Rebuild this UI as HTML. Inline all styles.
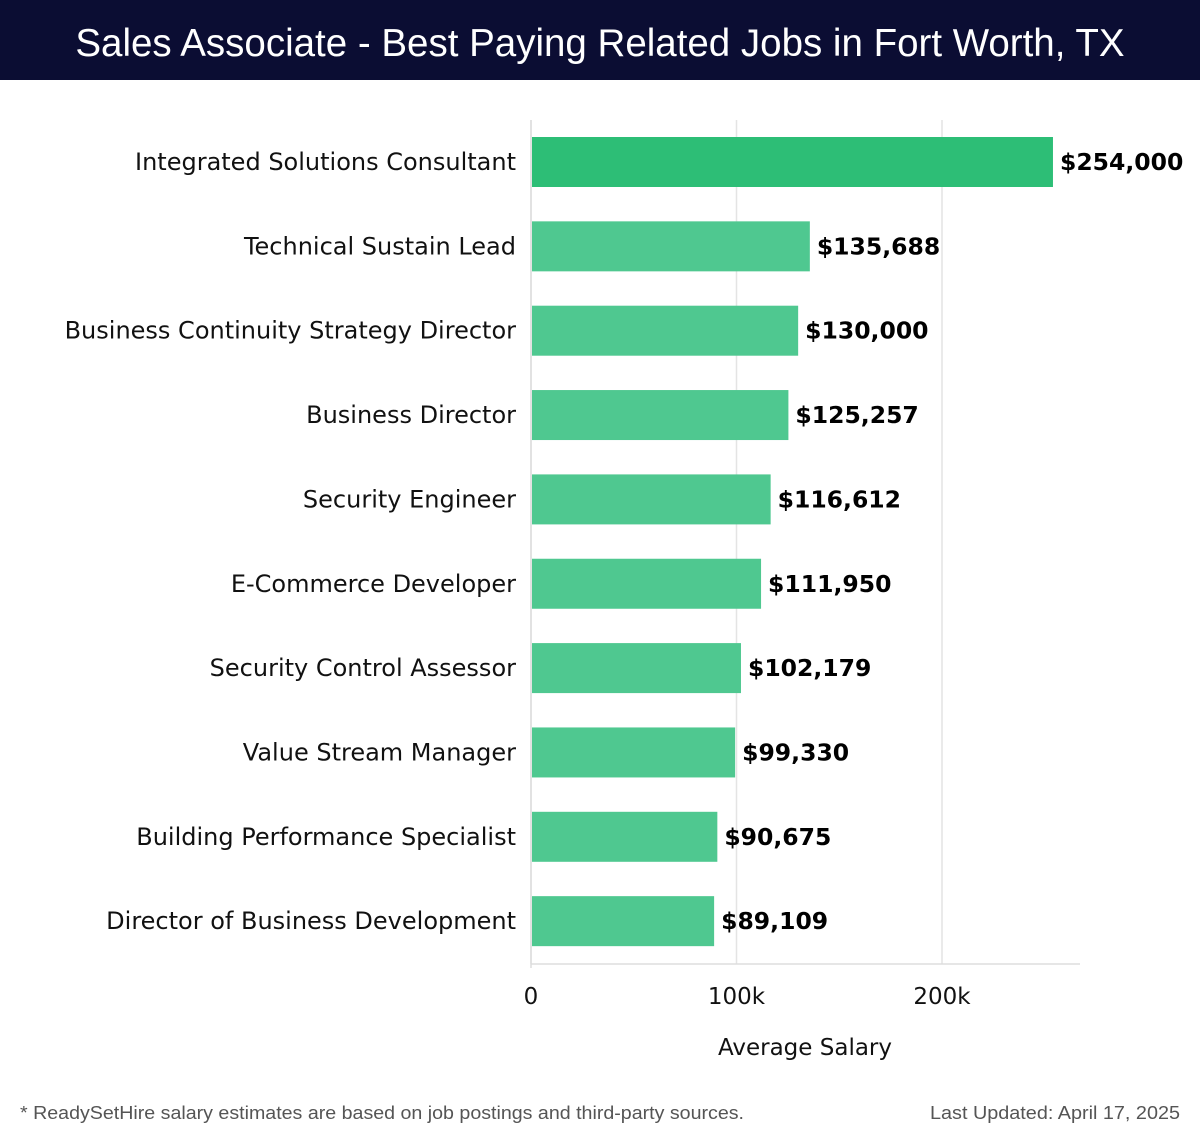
<!DOCTYPE html>
<html><head><meta charset="utf-8"><style>
body{margin:0;width:1200px;height:1140px;background:#fff;font-family:"Liberation Sans",sans-serif;overflow:hidden}
#title{position:absolute;left:0;top:0;width:1200px;height:80px;background:#0b0d33;color:#fff;font-size:38.5px;text-align:center;line-height:88px}
svg{position:absolute;left:0;top:0}
</style></head><body>
<div id="title">Sales Associate - Best Paying Related Jobs in Fort Worth, TX</div>
<svg id="c" width="1200" height="1140"></svg>
<script>
const categories=["Integrated Solutions Consultant","Technical Sustain Lead","Business Continuity Strategy Director","Business Director","Security Engineer","E-Commerce Developer","Security Control Assessor","Value Stream Manager","Building Performance Specialist","Director of Business Development"];
const salaries=[254000,135688,130000,125257,116612,111950,102179,99330,90675,89109];
const tickValues=[0,100000,200000];
const tickLabels=["0","100k","200k"];
const NS="http://www.w3.org/2000/svg",svg=document.getElementById('c');
const x0=531,pxPer=205.5/100000,top0=120,step=84.35,barH=50;
const DJ='"DejaVu Sans","Liberation Sans",sans-serif';
const X=v=>x0+v*pxPer, Yc=i=>top0+42+i*step;
function mk(t,a,txt){const e=document.createElementNS(NS,t);for(const k in a)e.setAttribute(k,a[k]);if(txt!=null)e.textContent=txt;svg.appendChild(e);return e;}
tickValues.forEach((v,i)=>{
 const g=mk('line',{x1:X(v),x2:X(v),y1:top0,y2:964,stroke:'#e4e4e4','stroke-width':1.5});
 
 const t=mk('text',{x:X(v),y:1004,'text-anchor':'middle','font-size':23,'font-family':DJ,fill:'#111'},tickLabels[i]);
 
});
const ax=mk('line',{x1:x0,x2:1080,y1:964,y2:964,stroke:'#ddd','stroke-width':1.5});

const ay=mk('line',{x1:x0,x2:x0,y1:top0,y2:968,stroke:'#ddd','stroke-width':1.5});

categories.forEach((c,i)=>{
 const y=Yc(i);
 const r=mk('rect',{x:x0+1,y:y-barH/2,width:X(salaries[i])-x0-1,height:barH,fill:i==0?'#2dbe76':'#4fc890'});
 
 const l=mk('text',{x:516,y:y+8,'text-anchor':'end','font-size':24,'font-family':DJ,fill:'#111'},c);
 
 const v=mk('text',{x:X(salaries[i])+7,y:y+8,'font-size':23.5,'font-weight':'bold','font-family':DJ,fill:'#000'},'$'+salaries[i].toLocaleString('en-US'));
 
});
const xt=mk('text',{x:805,y:1055,'text-anchor':'middle','font-size':23,'font-family':DJ,fill:'#111'},'Average Salary');

const fn=mk('text',{x:20,y:1119,'font-size':18,fill:'#555',textLength:724,lengthAdjust:'spacingAndGlyphs'},'* ReadySetHire salary estimates are based on job postings and third-party sources.');

const lu=mk('text',{x:930,y:1119,'font-size':18,fill:'#555',textLength:250,lengthAdjust:'spacingAndGlyphs'},'Last Updated: April 17, 2025');

</script>
</body></html>
